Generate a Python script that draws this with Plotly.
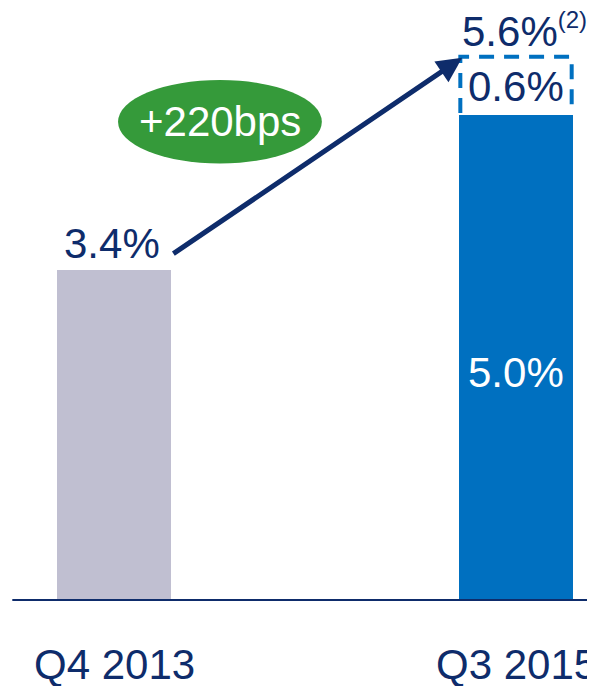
import plotly.graph_objects as go

categories = ["Q4 2013", "Q3 2015"]
base_values = [3.4, 5.0]
increment_values = [0.0, 0.6]
total_labels = ["3.4%", "5.6%<sup><span style='font-size:24px'>(2)</span></sup>"]
base_labels = ["", "5.0%"]
increment_label = "0.6%"
change_label = "+220bps"

NAVY = "#0E2C6B"
BLUE = "#0070C0"
GREY = "#C0BFD1"
GREEN = "#359A3A"
FONT = "Liberation Sans, Arial, sans-serif"
FS = 42

x = [0, 1]
bw = 0.285

fig = go.Figure()
fig.add_trace(go.Bar(
    x=x, y=base_values, width=bw,
    marker=dict(color=[GREY, BLUE], line=dict(width=0)),
    hoverinfo="skip", showlegend=False,
))

shapes = []
annotations = []

# baseline axis
shapes.append(dict(type="line", xref="x", yref="y", x0=-0.253, x1=1.25, y0=0, y1=0,
                   line=dict(color=NAVY, width=2), layer="above"))

# dashed increment box (open at bottom, sitting on the bar)
bx0 = x[1] - bw / 2 + 0.004
bx1 = x[1] + bw / 2 - 0.004
by0 = base_values[1] + 0.02
by1 = base_values[1] + increment_values[1]
shapes.append(dict(type="path", xref="x", yref="y",
                   path=f"M {bx0},{by0} L {bx0},{by1} L {bx1},{by1} L {bx1},{by0}",
                   line=dict(color=BLUE, width=4, dash="15px,10px"),
                   fillcolor="rgba(0,0,0,0)"))

# green ellipse
shapes.append(dict(type="circle", xref="x", yref="y", x0=0.01, x1=0.517, y0=4.50, y1=5.36,
                   fillcolor=GREEN, line=dict(width=0)))

# category labels
for xi, c in zip(x, categories):
    annotations.append(dict(x=xi, y=-0.67, xref="x", yref="y", text=c, showarrow=False,
                            font=dict(family=FONT, size=FS, color=NAVY)))

# total labels
annotations.append(dict(x=x[0] - 0.005, y=base_values[0] + 0.28, xref="x", yref="y",
                        text=total_labels[0], showarrow=False,
                        font=dict(family=FONT, size=FS, color=NAVY)))
annotations.append(dict(x=x[1] + 0.02, y=base_values[1] + increment_values[1] + 0.27,
                        xref="x", yref="y", text=total_labels[1], showarrow=False,
                        font=dict(family=FONT, size=FS, color=NAVY)))
# increment label
annotations.append(dict(x=x[1], y=base_values[1] - 0.01 + increment_values[1] / 2,
                        xref="x", yref="y", text=increment_label, showarrow=False,
                        font=dict(family=FONT, size=FS, color=NAVY)))
# inside bar label
annotations.append(dict(x=x[1], y=base_values[1] / 2 - 0.16, xref="x", yref="y", text=base_labels[1],
                        showarrow=False, font=dict(family=FONT, size=FS, color="white")))
# change label
annotations.append(dict(x=0.264, y=4.93, xref="x", yref="y", text=change_label, showarrow=False,
                        font=dict(family=FONT, size=FS, color="white")))
# arrow
annotations.append(dict(x=0.866, y=base_values[1] + increment_values[1] - 0.01, xref="x", yref="y",
                        ax=0.144, ay=base_values[0] + 0.16, axref="x", ayref="y",
                        text="", showarrow=True, arrowhead=2, arrowsize=1.0, arrowwidth=5,
                        arrowcolor=NAVY))

fig.update_layout(
    width=587, height=678,
    margin=dict(l=0, r=0, t=0, b=0),
    paper_bgcolor="white", plot_bgcolor="white",
    xaxis=dict(range=[-0.2637, 1.1965], visible=False, fixedrange=True),
    yaxis=dict(range=[-0.887, 6.103], visible=False, fixedrange=True),
    shapes=shapes, annotations=annotations,
    bargap=0,
)

fig.write_html("out.html")
